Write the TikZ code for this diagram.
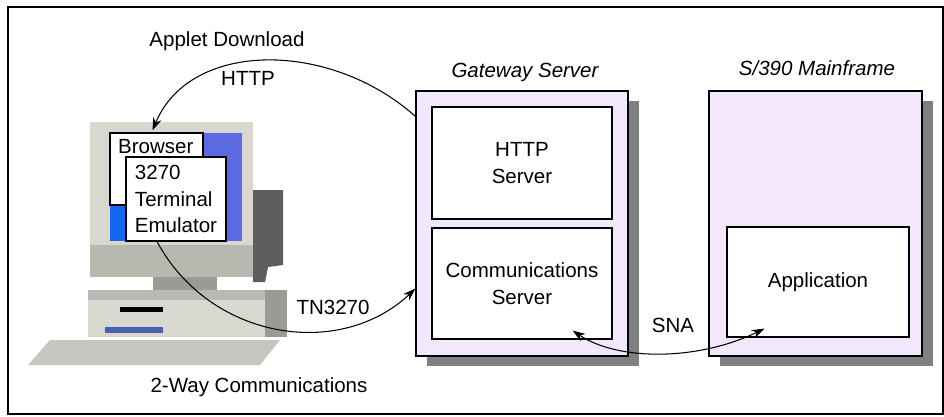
\documentclass[tikz,border=0pt]{standalone}
\usepackage{fontspec}
\setmainfont{Liberation Sans}
\usepackage{tikz}
\usetikzlibrary{calc,shadows,arrows.meta}
\definecolor{lilac}{HTML}{F3E7FB}
\definecolor{casegray}{HTML}{D8D8D0}
\definecolor{sidegray}{HTML}{5E5E5E}
\definecolor{neckgray}{HTML}{9A9A96}
\definecolor{keygray}{HTML}{C6C6C0}
\definecolor{screenblue}{HTML}{5B6AE0}
\definecolor{brightblue}{HTML}{1565F5}
\definecolor{slotblue}{HTML}{4A5FB0}

\begin{document}
\begin{tikzpicture}[x=0.03cm,y=-0.03cm,
    every node/.style={font=\fontsize{17.5}{22.5}\selectfont},
    box/.style={draw=black,line width=1pt,fill=lilac,inner sep=0pt,
        drop shadow={opacity=1,fill=black!50,shadow xshift=0.33cm,shadow yshift=-0.3cm}},
    part/.style={draw=black,line width=1pt,fill=white,inner sep=0pt,align=center},
    tip/.style={Stealth[length=3.8mm,width=2.6mm]},
    link/.style={line width=0.9pt,-{Stealth[length=3.8mm,width=2.6mm]}},
    twolink/.style={line width=0.9pt,{Stealth[length=3.8mm,width=2.6mm]}-{Stealth[length=3.8mm,width=2.6mm]}}]

    \useasboundingbox (0,0) rectangle (944,417);
    \draw[line width=0.9pt] (8,7) rectangle (943,414);

    % workstation
    \fill[keygray] (50,340) -- (280,340) -- (260,365) -- (28,365) -- cycle;
    \fill[casegray] (88,290) rectangle (287,337);
    \fill[neckgray!70] (88,290) rectangle (287,300);
    \fill[neckgray] (265,290) rectangle (287,337);
    \fill[black] (120,307) rectangle (163,312);
    \fill[slotblue] (105,327) rectangle (163,333);
    \fill[neckgray] (153,277) rectangle (217,290);
    \fill[sidegray] (253,190) -- (283,190) -- (283,265) -- (268,267) -- (265,282) -- (253,282) -- cycle;
    \fill[casegray] (90,122) rectangle (253,277);
    \fill[casegray!85!black] (90,245) rectangle (253,277);
    \fill[screenblue] (110,133) rectangle (242,241);
    \fill[brightblue] (110,205) rectangle (126,241);

    \node[part,minimum width=2.79cm,minimum height=2.16cm] (browser) at (156.5,169) {};
    \node[anchor=north west,inner sep=0pt] (browsertext) at (118,139) {Browser};
    \node[part,align=left,minimum width=3cm,minimum height=2.52cm] (term) at (176,199) {3270\\Terminal\\Emulator};

    % servers
    \node[box,minimum width=6.36cm,minimum height=7.95cm] (gw) at (522,223.5) {};
    \node[part,minimum width=5.4cm,minimum height=3.36cm] (http) at (522,163) {HTTP\\Server};
    \node[part,minimum width=5.4cm,minimum height=3.33cm] (comm) at (522,283.5) {Communications\\Server};
    \node[box,minimum width=6.39cm,minimum height=7.95cm] (host) at (815.5,223.5) {};
    \node[part,minimum width=5.46cm,minimum height=3.3cm] (app) at (818,282) {Application};

    \node (gwlabel) at (525,72) {\itshape Gateway Server};
    \node (hostlabel) at (817,68) {\itshape S/390 Mainframe};

    % flows
    \node (applet) at (227,41) {Applet Download};
    \node (httplabel) at (248,78) {HTTP};
    \node (tnlabel) at (333,307) {TN3270};
    \node (snalabel) at (673,325) {SNA};
    \node (twoway) at (259,387) {2-Way Communications};

    \draw[link] ($(gw.north west)+(0,26)$) .. controls (330,40) and (190,40) .. ($(browser.north)+(-4,-2)$);
    \draw[link] ($(term.south)+(-19,0)$) .. controls (210,340) and (340,360) .. ($(gw.south west)+(0,-68)$);
    \draw[twolink] ($(comm.south east)+(-40,-9)$) .. controls (620,362) and (700,360) .. ($(app.south west)+(38,-9)$);
\end{tikzpicture}
\end{document}
